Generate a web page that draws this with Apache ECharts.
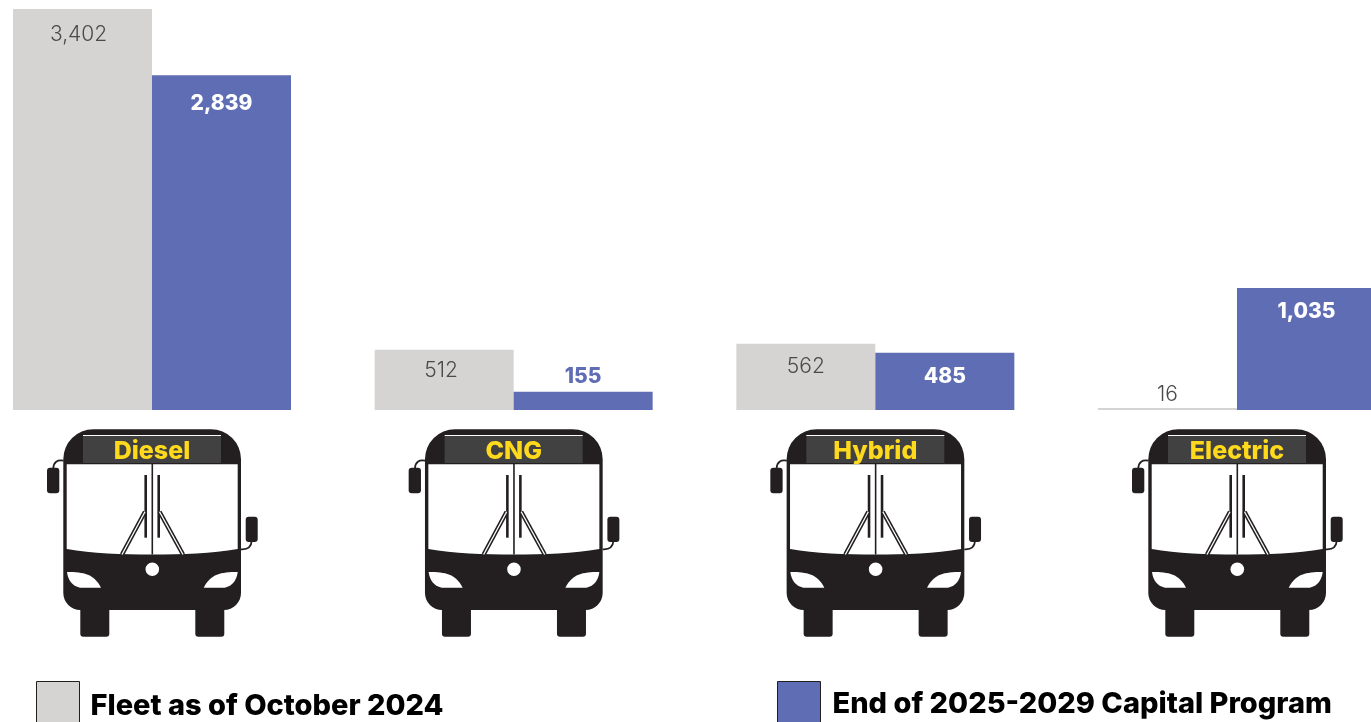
<!DOCTYPE html>
<html>
<head>
<meta charset="utf-8">
<style>html,body{margin:0;padding:0;background:#fff;overflow:hidden}#c{width:1371px;height:722px}</style>
<script src="https://cdn.jsdelivr.net/npm/echarts@6/dist/echarts.min.js"></script>
</head>
<body>
<div id="c"></div>
<script>
const categories = ['Diesel', 'CNG', 'Hybrid', 'Electric'];
const fleetName = 'Fleet as of October 2024';
const programName = 'End of 2025-2029 Capital Program';
const fleetValues = [3402, 512, 562, 16];
const programValues = [2839, 155, 485, 1035];

const FONT = 'Inter, "Liberation Sans", Arial, sans-serif';
const GREY = '#d5d4d2', BLUE = '#5f6db5', INK = '#231f20', SIGN = '#414141', YELLOW = '#ffd91c';
const fmt = v => v.toLocaleString('en-US');

// label placement per bar (small bars carry the number above them)
const fleetLabel = [
  {position: 'insideTop', distance: 15, offset: [-4, 0]},
  {position: 'insideTop', distance: 11, offset: [-3, 0]},
  {position: 'insideTop', distance: 12},
  {position: 'top', distance: 3}
];
const programLabel = [
  {position: 'insideTop', distance: 18},
  {position: 'top', distance: 5, color: BLUE},
  {position: 'insideTop', distance: 13},
  {position: 'insideTop', distance: 13}
];

function busChildren() {
  const dark = {fill: INK};
  const line = (x1, y1, x2, y2, lineWidth, stroke) => ({
    type: 'line', shape: {x1, y1, x2, y2}, style: {stroke: stroke || INK, lineWidth, fill: null}
  });
  const path = (pathData, x, y, width, height, fill) => ({
    type: 'path', shape: {pathData, x, y, width, height, layout: 'cover'}, style: {fill}
  });
  const rect = (x, y, width, height, r, style) => ({type: 'rect', shape: {x, y, width, height, r}, style});
  const curve = (x1, y1, cpx1, cpy1, x2, y2) => ({
    type: 'bezierCurve', shape: {x1, y1, x2, y2, cpx1, cpy1}, style: {stroke: INK, lineWidth: 1.8, fill: null}
  });
  return [
    // wheels
    rect(-71.7, 190, 29, 36.7, [0, 0, 3, 3], dark),
    rect(43.3, 190, 29, 36.7, [0, 0, 3, 3], dark),
    // body
    rect(-88.7, 19.3, 177.7, 180.7, [30, 30, 17, 17], dark),
    // mirrors and stalks
    curve(-88.5, 50.7, -98, 49, -98.7, 58),
    rect(-105, 57.7, 12.3, 25.6, 3, dark),
    curve(89, 139.3, 99, 140, 99.7, 131),
    rect(93.7, 106.7, 12, 25.3, 3, dark),
    // windshield
    path('M-85.3 54.3 L85.7 54.3 L85.7 139 C60 143.5 30 144.5 0 144.5 C-30 144.5 -60 143.5 -85.3 139 Z', -85.3, 54.3, 171, 90.2, '#fff'),
    // destination sign
    rect(-69, 25.7, 138, 27.3, 0, {fill: SIGN}),
    line(-69, 25.5, 69, 25.5, 1, '#fff'),
    // centre pillar and wipers
    line(0.3, 54, 0.3, 144.5, 1.6),
    line(-6.3, 65, -6.3, 127.7, 2.6),
    line(6.7, 65, 6.7, 127.7, 2.6),
    line(-7, 101.7, -30, 144.5, 4.4),
    line(-7, 101.7, -30, 144.5, 1.3, '#fff'),
    line(7.5, 101.7, 31, 144.5, 4.4),
    line(7.5, 101.7, 31, 144.5, 1.3, '#fff'),
    // marker light
    {type: 'circle', shape: {cx: 0.3, cy: 159.3, r: 6.8}, style: {fill: '#fff'}},
    // headlights
    path('M-85 162 C-68 162 -58 164 -51 177.7 L-72 177.7 C-80 176 -84 170 -85 162 Z', -85, 162, 34, 15.7, '#fff'),
    path('M85.7 162 C68.7 162 58.7 164 51.7 177.7 L72.7 177.7 C80.7 176 84.7 170 85.7 162 Z', 51.7, 162, 34, 15.7, '#fff')
  ];
}

const chart = echarts.init(document.getElementById('c'), null, {renderer: 'canvas'});
const baseLabel = {show: true, fontFamily: FONT, fontSize: 21, formatter: p => fmt(p.value)};

chart.setOption({
  animation: false,
  backgroundColor: '#fff',
  grid: {left: 152, right: 134, top: 9, bottom: 312},
  xAxis: {
    type: 'category', data: categories, z: 10, boundaryGap: false,
    axisLine: {show: false}, axisTick: {show: false}, splitLine: {show: false},
    axisLabel: {
      show: true, interval: 0, margin: 29, color: YELLOW, fontFamily: FONT, fontWeight: 800, fontSize: 25
    }
  },
  yAxis: {type: 'value', min: 0, max: 3402, show: false},
  legend: [
    {
      data: [{name: fleetName, icon: 'rect'}], left: 36, top: 681, padding: 0, selectedMode: false,
      itemWidth: 43, itemHeight: 50,
      itemStyle: {borderColor: INK, borderWidth: 1},
      textStyle: {color: '#000', fontFamily: FONT, fontWeight: 800, fontSize: 29, padding: [0, 0, 0, 6]}
    },
    {
      data: [{name: programName, icon: 'rect'}], left: 777, top: 681, padding: 0, selectedMode: false,
      itemWidth: 43, itemHeight: 46,
      itemStyle: {borderColor: INK, borderWidth: 1},
      textStyle: {color: '#000', fontFamily: FONT, fontWeight: 800, fontSize: 29, padding: [0, 0, 0, 7]}
    }
  ],
  series: [
    {
      name: fleetName, type: 'bar', barWidth: 139, barGap: 0, clip: false,
      itemStyle: {color: GREY},
      label: {...baseLabel, color: '#4a4a4a', fontWeight: 300},
      data: fleetValues.map((value, i) => ({value, label: fleetLabel[i]}))
    },
    {
      name: programName, type: 'bar', barWidth: 139, barGap: 0, clip: false,
      itemStyle: {color: BLUE},
      label: {...baseLabel, color: '#fff', fontWeight: 800},
      data: programValues.map((value, i) => ({value, label: programLabel[i]}))
    },
    {
      name: 'buses', type: 'custom', silent: true, clip: false, z: 3,
      encode: {x: 0, y: 1},
      data: categories.map((c, i) => [i, 0]),
      renderItem: (params, api) => {
        const p = api.coord([api.value(0), 0]);
        return {type: 'group', x: p[0], y: p[1], children: busChildren()};
      }
    }
  ]
});
</script>
</body>
</html>
